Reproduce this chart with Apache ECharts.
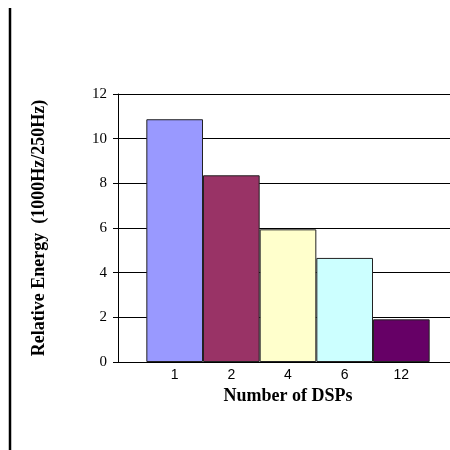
<!DOCTYPE html>
<html>
<head>
<meta charset="utf-8">
<script src="https://cdn.jsdelivr.net/npm/echarts@6/dist/echarts.min.js"></script>
<style>
  html, body { margin: 0; padding: 0; background: #fff; }
  #chart { width: 450px; height: 450px; }
</style>
</head>
<body>
<div id="chart"></div>
<script>
// Relative energy of the 1000 Hz setting versus 250 Hz, by DSP count
const dspCounts = ['1', '2', '4', '6', '12'];
const relativeEnergy = [10.87, 8.36, 5.94, 4.66, 1.91];
const barColors = ['#9999FF', '#993366', '#FFFFCC', '#CCFFFF', '#660066'];
const yTicks = { min: 0, max: 12, interval: 2 };

// Pad the category axis with an empty slot on each side so the bars
// sit between the value axis and the right edge, touching each other.
const axisCategories = [''].concat(dspCounts, ['']);
const barData = ['-'].concat(
  relativeEnergy.map((v, i) => ({ value: v, itemStyle: { color: barColors[i] } })),
  ['-']
);

const chart = echarts.init(document.getElementById('chart'), null, { renderer: 'canvas' });
chart.setOption({
  animation: false,
  backgroundColor: '#ffffff',
  grid: { left: 118, top: 94, width: 340, height: 268, containLabel: false, outerBoundsMode: 'none' },
  xAxis: {
    type: 'category',
    data: axisCategories,
    boundaryGap: false,
    name: 'Number of DSPs',
    nameLocation: 'middle',
    nameGap: 16,
    nameTextStyle: { fontFamily: 'Liberation Serif', fontWeight: 'bold', fontSize: 18, color: '#000', verticalAlign: 'top' },
    axisLine: { lineStyle: { color: '#000', width: 1 } },
    axisTick: { show: false },
    axisLabel: { fontFamily: 'Liberation Sans', fontSize: 14, color: '#000', margin: 6, interval: 0 },
    splitLine: { show: false }
  },
  yAxis: {
    type: 'value',
    min: yTicks.min,
    max: yTicks.max,
    interval: yTicks.interval,
    name: 'Relative Energy  (1000Hz/250Hz)',
    nameLocation: 'middle',
    nameGap: 70,
    nameRotate: 90,
    nameTextStyle: { fontFamily: 'Liberation Serif', fontWeight: 'bold', fontSize: 18, color: '#000' },
    axisLine: { show: true, lineStyle: { color: '#000', width: 1 } },
    axisTick: { show: true, length: 5, lineStyle: { color: '#000' } },
    axisLabel: { fontFamily: 'Liberation Serif', fontSize: 15, color: '#000', margin: 11 },
    splitLine: { show: true, lineStyle: { color: '#000', width: 1 } }
  },
  series: [{
    type: 'bar',
    data: barData,
    barWidth: '100%',
    itemStyle: { borderColor: '#222', borderWidth: 1 }
  }],
  graphic: [{
    type: 'line',
    shape: { x1: 10, y1: 8, x2: 10, y2: 450 },
    style: { stroke: '#000', lineWidth: 2.5 },
    silent: true
  }]
});
</script>
</body>
</html>
